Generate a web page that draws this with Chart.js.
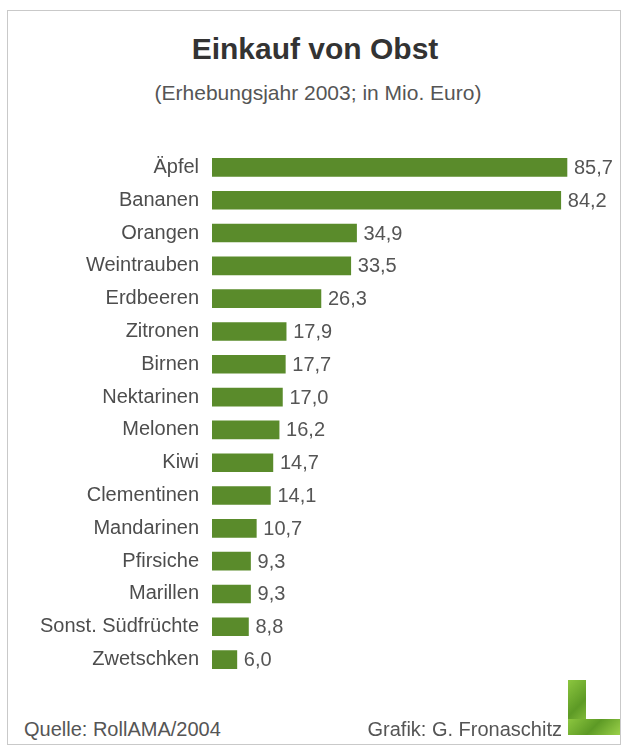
<!DOCTYPE html>
<html>
<head>
<meta charset="utf-8">
<script src="https://cdn.jsdelivr.net/npm/chart.js@4/dist/chart.umd.min.js"></script>
<style>
  html, body { margin:0; padding:0; background:#fff; }
  body { width:626px; height:750px; position:relative; overflow:hidden; font-family:"Liberation Sans", Arial, sans-serif; }
  #frame { position:absolute; left:7px; top:10px; width:614px; height:735px; border:1.5px solid #c9c9c9; box-sizing:border-box; }
  .t { position:absolute; white-space:nowrap; }
  #title { left:0; width:630px; text-align:center; top:34px; font-size:30px; line-height:30px; font-weight:bold; color:#333; }
  #sub { left:0; width:636px; text-align:center; top:82px; font-size:21px; line-height:21px; color:#555; }
  #src { left:24px; top:719px; font-size:20px; line-height:20px; color:#555; }
  #graf { right:64px; top:719px; font-size:20px; line-height:20px; color:#555; }
  #chartWrap { position:absolute; left:0; top:126px; width:626px; height:575px; }
  .lg { position:absolute; background:linear-gradient(135deg,#8cc63f,#5d9a25 50%,#9bd14a); }
</style>
</head>
<body>
<div id="frame"></div>
<div class="t" id="title">Einkauf von Obst</div>
<div class="t" id="sub">(Erhebungsjahr 2003; in Mio. Euro)</div>
<div id="chartWrap"><canvas id="c" width="626" height="575"></canvas></div>
<div class="t" id="src">Quelle: RollAMA/2004</div>
<div class="t" id="graf">Grafik: G. Fronaschitz</div>
<div class="lg" style="left:568px; top:680px; width:18px; height:55px;"></div>
<div class="lg" style="left:568px; top:719px; width:52px; height:16px;"></div>
<script>
const categories = ["Äpfel","Bananen","Orangen","Weintrauben","Erdbeeren","Zitronen","Birnen","Nektarinen","Melonen","Kiwi","Clementinen","Mandarinen","Pfirsiche","Marillen","Sonst. Südfrüchte","Zwetschken"];
const values = [85.7,84.2,34.9,33.5,26.3,17.9,17.7,17.0,16.2,14.7,14.1,10.7,9.3,9.3,8.8,6.0];
const xMax = 95;

const valueLabels = {
  id: 'valueLabels',
  afterDatasetsDraw(chart) {
    const ctx = chart.ctx;
    const meta = chart.getDatasetMeta(0);
    ctx.save();
    ctx.font = '20px "Liberation Sans", Arial, sans-serif';
    ctx.fillStyle = '#555';
    ctx.textAlign = 'left';
    ctx.textBaseline = 'middle';
    meta.data.forEach((bar, i) => {
      const txt = values[i].toFixed(1).replace('.', ',');
      ctx.fillText(txt, bar.x + 7, bar.y + 1);
    });
    ctx.restore();
  }
};

new Chart(document.getElementById('c'), {
  type: 'bar',
  data: {
    labels: categories,
    datasets: [{
      data: values,
      backgroundColor: '#5a8b2b',
      borderWidth: 0,
      barThickness: 18
    }]
  },
  options: {
    indexAxis: 'y',
    responsive: false,
    devicePixelRatio: 1,
    animation: false,
    layout: { padding: { left: 0, right: 20.5, top: 0, bottom: 0 } },
    plugins: { legend: { display: false }, tooltip: { enabled: false } },
    scales: {
      x: { min: 0, max: xMax, display: false },
      y: {
        grid: { display: false, drawTicks: false },
        border: { display: false },
        ticks: {
          padding: 13,
          color: '#4d4d4d',
          font: { family: '"Liberation Sans", Arial, sans-serif', size: 20 }
        },
        afterFit(scale) { scale.width = 212; }
      }
    }
  },
  plugins: [valueLabels]
});
</script>
</body>
</html>
